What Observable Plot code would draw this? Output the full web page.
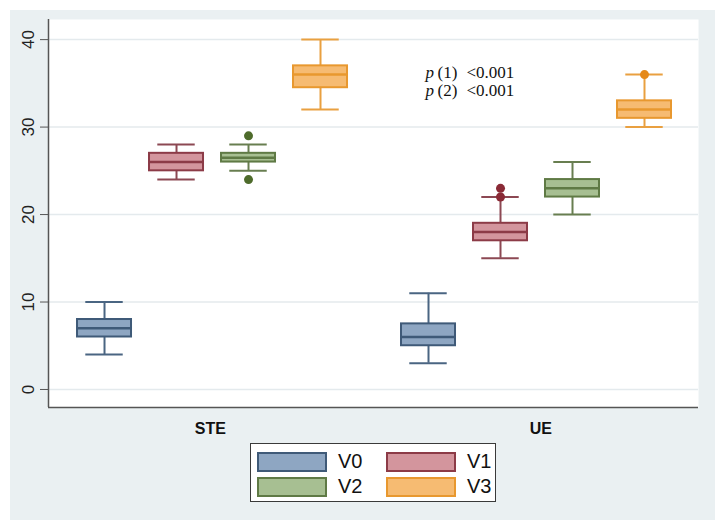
<!DOCTYPE html>
<html>
<head>
<meta charset="utf-8">
<script src="https://cdn.jsdelivr.net/npm/d3@7"></script>
<script src="https://cdn.jsdelivr.net/npm/@observablehq/plot@0.6"></script>
<style>
  html, body { margin: 0; padding: 0; background: #ffffff; }
  #panel { position: absolute; left: 10px; top: 10px; width: 705px; height: 510px; background: #eaf0f2; }
  #panel svg { position: absolute; left: 0; top: 0; background: transparent; }
  #legend { position: absolute; left: 240px; top: 433px; width: 244px; height: 57px; background: #fff;
            border: 1.5px solid #3a3a3a; font-family: "Liberation Sans", Arial, sans-serif; font-size: 20px; color: #111; }
  .item { position: absolute; display: flex; align-items: center; }
  .sw { width: 66px; height: 16px; border: 2px solid; margin-right: 11px; }
</style>
</head>
<body>
<div id="panel"><div id="legend"></div></div>
<script>
const groups = ["STE", "UE"];
const series = ["V0", "V1", "V2", "V3"];
const whiskerLow  = [[4, 24, 25, 32],   [3, 15, 20, 30]];
const quart1      = [[6, 25, 26, 34.5], [5, 17, 22, 31]];
const medians     = [[7, 26, 26.5, 36], [6, 18, 23, 32]];
const quart3      = [[8, 27, 27, 37],   [7.5, 19, 24, 33]];
const whiskerHigh = [[10, 28, 28, 40],  [11, 22, 26, 36]];
const outliers = [["STE", "V2", 29], ["STE", "V2", 24], ["UE", "V1", 22], ["UE", "V1", 23], ["UE", "V3", 36]];
const yTicks = [0, 10, 20, 30, 40];
const pTests = ["(1)", "(2)"];
const pValues = ["<0.001", "<0.001"];

const fills   = ["#8ea6c2", "#d3959d", "#a7bf92", "#f6bb72"];
const strokes = ["#3f5a78", "#8c3b47", "#5f7a45", "#e8982f"];
const whiskerColors = ["#4a6582", "#8c4853", "#687e50", "#e9a040"];
const dotColors = ["#3f5a78", "#8a2a36", "#4e6b2b", "#e5891a"];

const groupGap = 4.5;
const boxHalf = 0.375, capHalf = 0.26;
const xDomain = [-0.778, 8.25];
const yDomain = [-2.06, 42.3];

const boxes = groups.flatMap((g, gi) => series.map((s, si) => ({
  group: g, series: s, si, pos: gi * groupGap + si,
  lo: whiskerLow[gi][si], q1: quart1[gi][si], med: medians[gi][si],
  q3: quart3[gi][si], hi: whiskerHigh[gi][si]
})));
const outs = outliers.map(([g, s, v]) => {
  const gi = groups.indexOf(g), si = series.indexOf(s);
  return { pos: gi * groupGap + si, value: v, si };
});
const serif = "Liberation Serif, Times New Roman, serif";
const annotStyle = { frameAnchor: "top-left", lineAnchor: "middle", textAnchor: "start",
  fontFamily: serif, fontSize: 17, fill: "#111" };

const chart = Plot.plot({
  width: 705,
  height: 432,
  marginLeft: 38,
  marginRight: 17,
  marginTop: 9,
  marginBottom: 35,
  x: { domain: xDomain, axis: null },
  y: { domain: yDomain, axis: null },
  style: { fontFamily: "Liberation Sans, Arial, sans-serif", background: "transparent" },
  marks: [
    Plot.frame({ fill: "white", stroke: null }),
    Plot.gridY(yTicks, { stroke: "#e4eaed", strokeOpacity: 1, strokeWidth: 1.5 }),
    // whiskers
    Plot.ruleX(boxes, { x: "pos", y1: "q3", y2: "hi", stroke: d => whiskerColors[d.si], strokeWidth: 2 }),
    Plot.ruleX(boxes, { x: "pos", y1: "lo", y2: "q1", stroke: d => whiskerColors[d.si], strokeWidth: 2 }),
    Plot.ruleY(boxes, { y: "hi", x1: d => d.pos - capHalf, x2: d => d.pos + capHalf, stroke: d => whiskerColors[d.si], strokeWidth: 2 }),
    Plot.ruleY(boxes, { y: "lo", x1: d => d.pos - capHalf, x2: d => d.pos + capHalf, stroke: d => whiskerColors[d.si], strokeWidth: 2 }),
    // boxes
    Plot.rect(boxes, { x1: d => d.pos - boxHalf, x2: d => d.pos + boxHalf, y1: "q1", y2: "q3",
      fill: d => fills[d.si], stroke: d => strokes[d.si], strokeWidth: 2 }),
    Plot.ruleY(boxes, { y: "med", x1: d => d.pos - boxHalf, x2: d => d.pos + boxHalf, stroke: d => strokes[d.si], strokeWidth: 2.5 }),
    // outliers
    Plot.dot(outs, { x: "pos", y: "value", r: 4.5, fill: d => dotColors[d.si], stroke: null }),
    // axes
    Plot.axisY(yTicks, { tickRotate: -90, tickSize: 8, tickPadding: 7, fontSize: 17, stroke: "#555", fill: "#222" }),
    Plot.ruleX([xDomain[0]], { stroke: "#555", strokeWidth: 1.5 }),
    Plot.ruleY([yDomain[0]], { stroke: "#555", strokeWidth: 1.5 }),
    Plot.text(groups, { x: (d, i) => i * groupGap + 1.5 + (i === 0 ? -0.03 : 0.06), y: yDomain[0], dy: 21, text: d => d,
      fontWeight: "bold", fontSize: 16, fill: "#111" })
  ]
});

// annotation p-values (offsets in pixels from the frame's top-left)
const annot = Plot.plot({
  width: 705, height: 432, marginLeft: 38, marginRight: 17, marginTop: 9, marginBottom: 35,
  x: { domain: xDomain, axis: null }, y: { domain: yDomain, axis: null },
  style: { background: "transparent" },
  marks: pTests.flatMap((t, i) => [
    Plot.text([t], { ...annotStyle, dx: 377, dy: 53 + i * 18.5, text: () => "p", fontStyle: "italic" }),
    Plot.text([t], { ...annotStyle, dx: 389, dy: 53 + i * 18.5, text: d => d, letterSpacing: "1px" }),
    Plot.text([pValues[i]], { ...annotStyle, dx: 418, dy: 53 + i * 18.5, text: d => d })
  ])
});

const panel = document.getElementById("panel");
panel.insertBefore(chart, panel.firstChild);
annot.style.pointerEvents = "none";
panel.insertBefore(annot, document.getElementById("legend"));

// legend
const legend = document.getElementById("legend");
series.forEach((s, i) => {
  const item = document.createElement("div");
  item.className = "item";
  item.style.left = (i % 2 === 0 ? 6 : 135) + "px";
  item.style.top = (i < 2 ? 6 : 31) + "px";
  const sw = document.createElement("div");
  sw.className = "sw";
  sw.style.background = fills[i];
  sw.style.borderColor = strokes[i];
  const lab = document.createElement("span");
  lab.textContent = s;
  item.appendChild(sw);
  item.appendChild(lab);
  legend.appendChild(item);
});
</script>
</body>
</html>
